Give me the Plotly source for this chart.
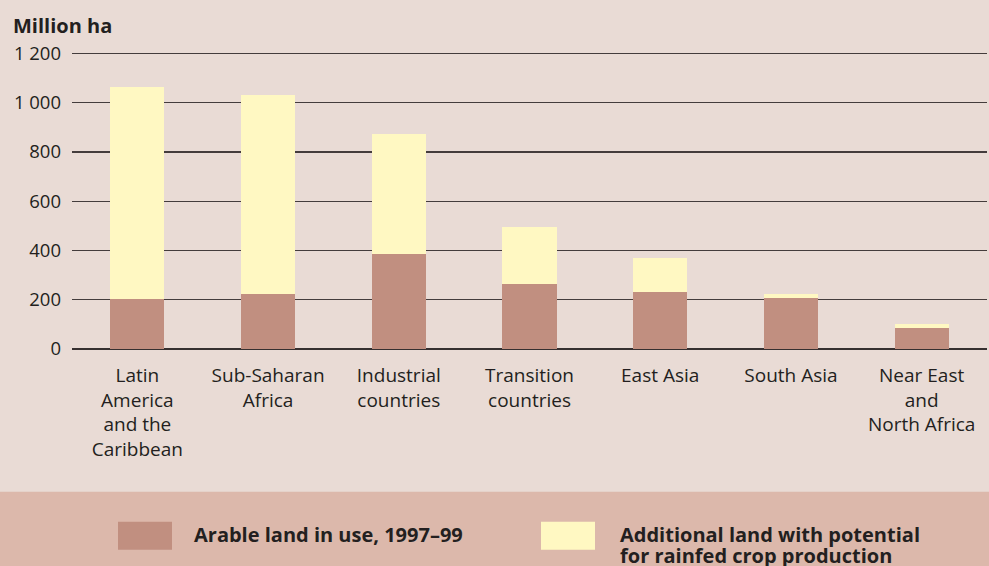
import plotly.graph_objects as go

categories = ["Latin<br>America<br>and the<br>Caribbean", "Sub-Saharan<br>Africa",
              "Industrial<br>countries", "Transition<br>countries", "East Asia",
              "South Asia", "Near East<br>and<br>North Africa"]
arable_in_use = [202, 222, 384, 263, 230, 206, 85]
additional_potential = [861, 808, 489, 234, 138, 16, 16]
y_tickvals = [0, 200, 400, 600, 800, 1000, 1200]
y_ticktext = ["0", "200", "400", "600", "800", "1 000", "1 200"]

BG = "#e9dbd5"
BAND = "#dcb8ab"
C_ARABLE = "#c18f80"
C_ADD = "#fff8c2"
TXT = "#231f20"
FONT = "Open Sans"

W, H = 989, 566
L, R = 72, 987
YMAX = 1206
SCALE = 296 / 1200.0
BOT = 349
TOP = BOT - YMAX * SCALE
pw, ph = R - L, BOT - TOP

def px(x):
    return (x - L) / pw

def py(y):
    return (BOT - y) / ph

fig = go.Figure()
fig.add_trace(go.Bar(x=categories, y=arable_in_use, name="Arable land in use, 1997–99",
                     marker=dict(color=C_ARABLE, line=dict(width=0))))
fig.add_trace(go.Bar(x=categories, y=additional_potential,
                     name="Additional land with potential for rainfed crop production",
                     marker=dict(color=C_ADD, line=dict(width=0))))

shapes = [
    dict(type="rect", xref="paper", yref="paper", x0=px(-5), x1=px(W + 5), y0=py(492), y1=py(H + 5),
         fillcolor=BAND, line=dict(width=0), layer="below"),
    dict(type="rect", xref="paper", yref="paper", x0=px(118), x1=px(172), y0=py(522), y1=py(550),
         fillcolor=C_ARABLE, line=dict(width=0)),
    dict(type="rect", xref="paper", yref="paper", x0=px(541), x1=px(595), y0=py(522), y1=py(550),
         fillcolor=C_ADD, line=dict(width=0)),
]

annotations = [
    dict(text="<b>Million ha</b>", xref="paper", yref="paper", x=px(11), y=py(25),
         xanchor="left", yanchor="middle", showarrow=False,
         font=dict(family=FONT, size=20, color=TXT)),
    dict(text="<b>Arable land in use, 1997–99</b>", xref="paper", yref="paper", x=px(192), y=py(535),
         xanchor="left", yanchor="middle", showarrow=False,
         font=dict(family=FONT, size=20, color=TXT)),
    dict(text="<b>Additional land with potential</b>", xref="paper",
         yref="paper", x=px(618), y=py(535), xanchor="left", yanchor="middle", align="left",
         showarrow=False, font=dict(family=FONT, size=20, color=TXT)),
    dict(text="<b>for rainfed crop production</b>", xref="paper",
         yref="paper", x=px(618), y=py(556), xanchor="left", yanchor="middle", align="left",
         showarrow=False, font=dict(family=FONT, size=20, color=TXT)),
]

fig.update_layout(
    width=W, height=H,
    margin=dict(l=L, r=W - R, t=TOP, b=H - BOT, pad=0),
    paper_bgcolor=BG, plot_bgcolor=BG,
    barmode="stack", bargap=0.585,
    showlegend=False,
    font=dict(family=FONT, size=18, color=TXT),
    shapes=shapes, annotations=annotations,
    xaxis=dict(showgrid=False, showline=False, ticks="", tickfont=dict(size=19, color=TXT),
               ticklabelstandoff=13, fixedrange=True),
    yaxis=dict(range=[0, YMAX], tickvals=y_tickvals, ticktext=y_ticktext,
               showgrid=True, gridcolor="#443c3c", gridwidth=1.2,
               zeroline=True, zerolinecolor="#363030", zerolinewidth=2,
               showline=False, ticks="", ticklabelstandoff=10,
               tickfont=dict(size=18.5, color=TXT), fixedrange=True),
)

fig.write_html("out.html", config={"displayModeBar": False, "staticPlot": True},
               post_script="document.body.style.margin='0';document.body.style.overflow='hidden';"
                           "document.documentElement.style.overflow='hidden';")
